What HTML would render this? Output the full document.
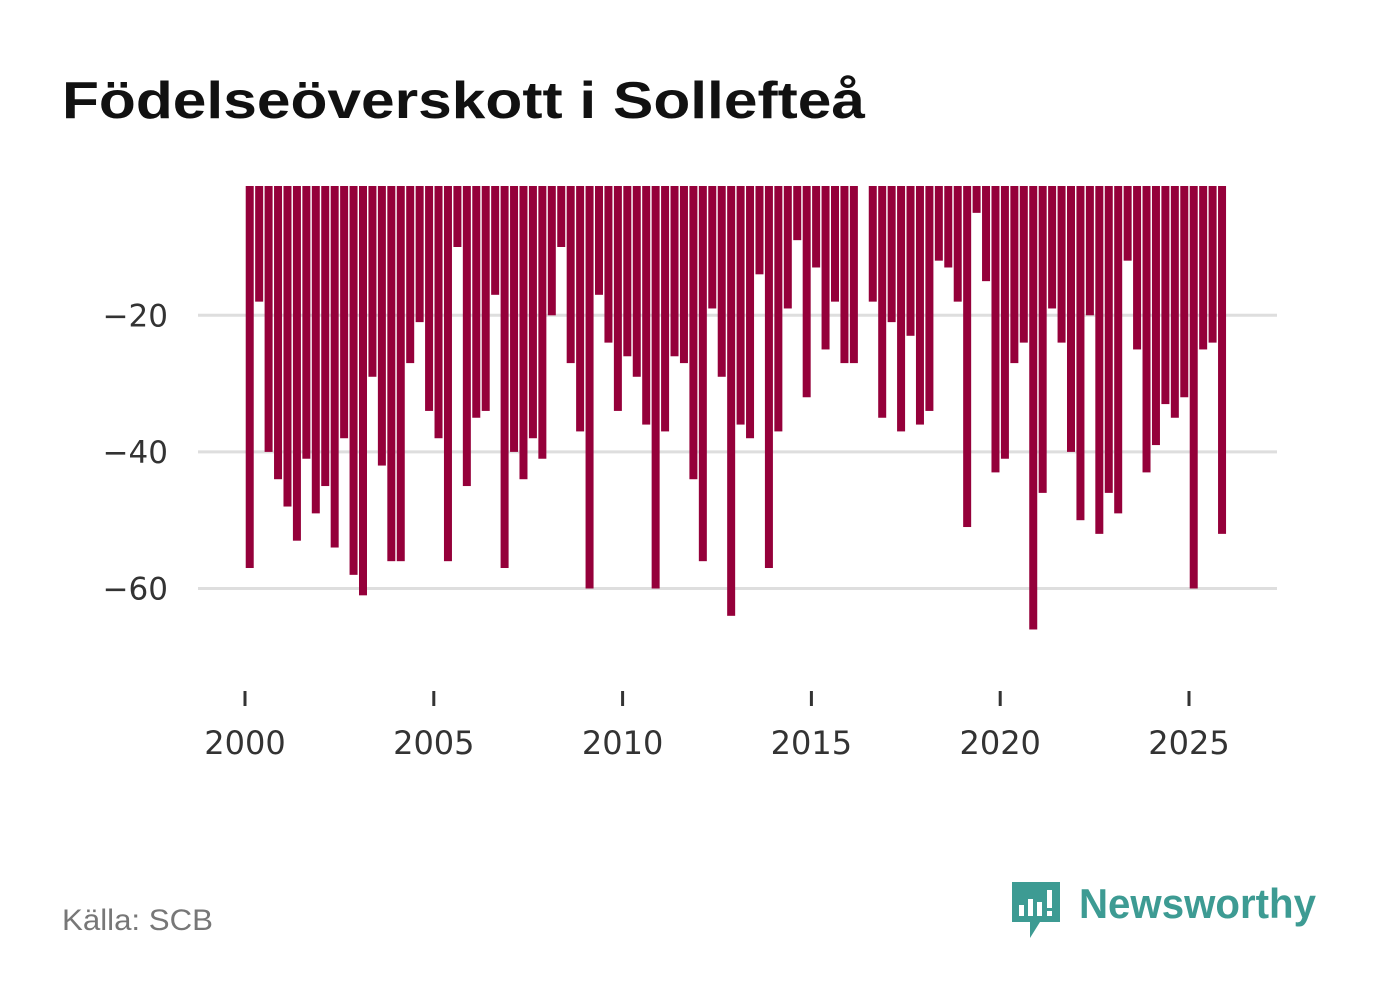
<!DOCTYPE html>
<html><head><meta charset="utf-8"><style>
body{margin:0;background:#fff;width:1382px;height:999px;overflow:hidden;font-family:"Liberation Sans",sans-serif}
</style></head><body>
<svg width="1382" height="999">
<text x="62" y="118" font-size="52" font-weight="bold" fill="#111" textLength="803" lengthAdjust="spacingAndGlyphs">Födelseöverskott i Sollefteå</text>
<g id="grid"></g><g id="bars"></g><g id="xaxis"></g>
<text x="62" y="930" font-size="30" fill="#777" textLength="151" lengthAdjust="spacingAndGlyphs">Källa: SCB</text>
<g>
<path d="M1012 882 h48 v40 h-20 l-10 16 v-16 h-18 z" fill="#3d9b93"/>
<rect x="1019" y="905" width="5" height="11" fill="#fff"/><rect x="1028" y="899" width="5" height="17" fill="#fff"/><rect x="1037" y="902" width="5" height="14" fill="#fff"/><rect x="1047" y="890" width="5" height="18" fill="#fff"/><rect x="1047" y="911" width="5" height="5" fill="#fff"/>
<text x="1079" y="918" font-size="42" font-weight="bold" fill="#3d9b93" textLength="237" lengthAdjust="spacingAndGlyphs">Newsworthy</text>
</g>
</svg>
<script>
const years=[2000,2005,2010,2015,2020,2025];
const yTicks=[-20,-40,-60];
const values=[-57,-18,-40,-44,-48,-53,-41,-49,-45,-54,-38,-58,-61,-29,-42,-56,-56,-27,-21,-34,-38,-56,-10,-45,-35,-34,-17,-57,-40,-44,-38,-41,-20,-10,-27,-37,-60,-17,-24,-34,-26,-29,-36,-60,-37,-26,-27,-44,-56,-19,-29,-64,-36,-38,-14,-57,-37,-19,-9,-32,-13,-25,-18,-27,-27,null,-18,-35,-21,-37,-23,-36,-34,-12,-13,-18,-51,-5,-15,-43,-41,-27,-24,-66,-46,-19,-24,-40,-50,-20,-52,-46,-49,-12,-25,-43,-39,-33,-35,-32,-60,-25,-24,-52];
const NS="http://www.w3.org/2000/svg";
const x=t=>245+(t-2000)*37.76;
const y=v=>178.7-6.83*v;
const TOP=186;
function mk(tag,attrs,parent){const e=document.createElementNS(NS,tag);for(const k in attrs)e.setAttribute(k,attrs[k]);document.getElementById(parent).appendChild(e);return e;}
yTicks.forEach(v=>{
 const l=mk('line',{x1:198,x2:1277,y1:y(v),y2:y(v),stroke:'#dedede','stroke-width':3},'grid');
 
 
 const t=mk('text',{x:168,y:y(v)+11,'font-size':31,fill:'#333','text-anchor':'end','font-family':'DejaVu Sans, sans-serif'},'grid');
 t.textContent='\u2212'+Math.abs(v);
 
 
});
values.forEach((v,i)=>{
 if(v===null)return;
 const cx=x(2000+Math.floor(i/4)+((i%4)+0.5)/4);
 const r=mk('rect',{x:cx-4,y:TOP,width:8,height:Math.max(0,y(v)-TOP),fill:'#95003a'},'bars');
 
 
});
years.forEach(yr=>{
 const l=mk('line',{x1:x(yr),x2:x(yr),y1:691,y2:706,stroke:'#333','stroke-width':3},'xaxis');
 
 
 const t=mk('text',{x:x(yr),y:754,'font-size':32,fill:'#333','text-anchor':'middle','font-family':'DejaVu Sans, sans-serif'},'xaxis');
 t.textContent=yr;
 
 
});
</script>
</body></html>
